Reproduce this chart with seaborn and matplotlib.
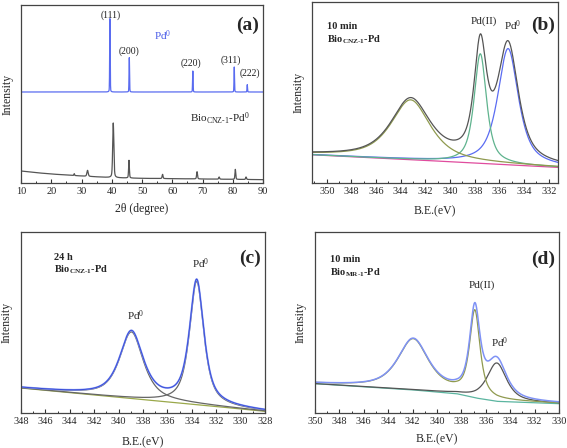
import numpy as np
import pandas as pd
import matplotlib
matplotlib.use("Agg")
import matplotlib.pyplot as plt
from matplotlib.ticker import MultipleLocator
import seaborn as sns

# ---------------- data ----------------
# (a) XRD
xrd_ref_pos = [39.4, 45.8, 66.8, 80.5, 84.8]
xrd_ref_top = [493, 376, 336, 348, 295]
xrd_ref_base = 273
xrd_ref_hkl = ["(111)", "(200)", "(220)", "(311)", "(222)"]
xrd_hkl_x = [39.5, 45.6, 66.3, 79.3, 85.5]
xrd_hkl_y = [503, 396, 360, 368, 330]
xrd_bg_x = [10, 15, 20, 30, 40, 50, 60, 70, 80, 90]
xrd_bg_y = [36, 31, 27, 21, 16, 14, 13, 12, 11, 10]
xrd_pk_pos = [27.6, 32.0, 40.5, 45.7, 56.8, 68.2, 75.5, 80.85, 84.4]
xrd_pk_top = [28, 38, 180, 68, 26, 34, 18, 41, 18]
xrd_pk_w = [0.25, 0.5, 0.45, 0.3, 0.35, 0.35, 0.35, 0.3, 0.35]

# (b) 10 min Bio_CNZ-1-Pd
b_bg_e = [351.2, 343.0, 337.0, 331.25]
b_bg_i = [85, 70, 58, 47]
b_cen = [343.2, 337.55, 335.3]
b_hgt = [180, 330, 350]
b_fwhm = [3.8, 1.2, 2.0]

# (c) 24 h Bio_CNZ-1-Pd
c_bg_e = [348.0, 338.0, 333.0, 328.0]
c_bg_i = [75, 40, 23, 5]
c_cen = [338.95, 333.6]
c_hgt = [200, 370]
c_fwhm = [2.3, 1.4]

# (d) 10 min Bio_MR-1-Pd
d_bg_e = [350.0, 342.2, 338.4, 336.8, 335.1, 330.0]
d_bg_i = [88, 70, 58, 45, 35, 28]
d_cen = [341.95, 336.9, 335.1]
d_hgt = [152, 255, 115]
d_fwhm = [3.0, 1.0, 1.9]


def pv(x, c, h, w, eta=0.75):
    u = (x - c) / (w / 2.0)
    return h * (eta / (1 + u ** 2) + (1 - eta) * np.exp(-np.log(2) * u ** 2))


# ---------------- style ----------------
sns.set_theme(style="ticks")
plt.rcParams["font.family"] = ["Liberation Serif", "DejaVu Serif"]
plt.rcParams["mathtext.fontset"] = "custom"
plt.rcParams["mathtext.rm"] = "Liberation Serif"
plt.rcParams["mathtext.it"] = "Liberation Serif:italic"
plt.rcParams["mathtext.bf"] = "Liberation Serif:bold"
plt.rcParams["axes.edgecolor"] = "#444444"
plt.rcParams["axes.linewidth"] = 0.9

fig = plt.figure(figsize=(5.67, 4.48), dpi=100)
W, H = 567.0, 448.0


def add_ax(l, r, t, b):
    return fig.add_axes([l / W, 1 - b / H, (r - l) / W, (b - t) / H])


ax_a = add_ax(21, 263, 5, 183)
ax_b = add_ax(312, 558, 2, 183)
ax_c = add_ax(21, 265, 232, 413)
ax_d = add_ax(315, 559, 232, 413)

TICK = 7.5
LAB = 8.5


def style_ax(ax, major, minor, xlab, xlabel_y, ylabel_x):
    ax.xaxis.set_major_locator(MultipleLocator(major))
    ax.xaxis.set_minor_locator(MultipleLocator(minor))
    ax.tick_params(axis="x", which="major", direction="in", length=3, width=0.8,
                   labelsize=TICK, pad=3, color="#333333")
    ax.tick_params(axis="x", which="minor", direction="in", length=1.8, width=0.7,
                   color="#333333")
    ax.tick_params(axis="y", left=False, labelleft=False)
    ax.set_yticks([])
    ax.set_xlabel(xlab, fontsize=LAB)
    ax.set_ylabel("Intensity", fontsize=LAB)
    ax.xaxis.set_label_coords(0.5, xlabel_y)
    ax.yaxis.set_label_coords(ylabel_x, 0.5)
    for s in ax.spines.values():
        s.set_visible(True)


def line(ax, x, y, color, lw=0.9):
    df = pd.DataFrame({"x": x, "y": y})
    sns.lineplot(data=df, x="x", y="y", ax=ax, color=color, lw=lw,
                 sort=False, estimator=None, legend=False)


# ---------------- (a) XRD ----------------
tt = np.linspace(10, 90, 4001)
ref = np.full_like(tt, float(xrd_ref_base))
for p, t in zip(xrd_ref_pos, xrd_ref_top):
    ref += pv(tt, p, t - xrd_ref_base, 0.2, eta=0.2)
line(ax_a, tt, ref, "#5a6cf0")

samp = np.interp(tt, xrd_bg_x, xrd_bg_y)
for p, t, w in zip(xrd_pk_pos, xrd_pk_top, xrd_pk_w):
    samp += pv(tt, p, t - np.interp(p, xrd_bg_x, xrd_bg_y), w, eta=0.4)
line(ax_a, tt, samp, "#555555")

for lab, x, y in zip(xrd_ref_hkl, xrd_hkl_x, xrd_hkl_y):
    ax_a.text(x, y, lab, fontsize=7, ha="center", va="center", color="#222222")
ax_a.text(56.9, 443, r"Pd$^{0}$", fontsize=8, ha="center", va="center", color="#4a5ce8")
ax_a.text(66, 193, r"Bio$_{\mathrm{CNZ\text{-}1}}$-Pd$^{0}$", fontsize=8,
          ha="left", va="center", color="#222222")
ax_a.text(0.938, 0.885, "(a)", transform=ax_a.transAxes, fontsize=14,
          fontweight="bold", ha="center", va="center")
ax_a.set_xlim(10, 90)
ax_a.set_ylim(0, 534)
style_ax(ax_a, 10, 5, "2θ (degree)", -0.112, -0.032)

# ---------------- (b) ----------------
eb = np.linspace(351.2, 331.25, 1200)
bgb = np.interp(eb, b_bg_e[::-1], b_bg_i[::-1])
compb = [pv(eb, c, h, w) for c, h, w in zip(b_cen, b_hgt, b_fwhm)]
line(ax_b, eb, bgb, "#e04c9e")
line(ax_b, eb, bgb + compb[2], "#5b6cf2")
line(ax_b, eb, bgb + compb[1], "#5fb38e")
line(ax_b, eb, bgb + compb[0], "#8f9a4f")
line(ax_b, eb, bgb + sum(compb), "#555555")
ax_b.set_xlim(351.2, 331.25)
ax_b.set_ylim(0, 545)
ax_b.text(350.0, 472, "10 min", fontsize=7.5, fontweight="bold", ha="left", va="center")
ax_b.text(350.0, 432, r"$\mathbf{Bio}_{\mathbf{CNZ\text{-}1}}\mathbf{\text{-}Pd}$", fontsize=7.5,
          ha="left", va="center")
ax_b.text(337.3, 488, "Pd(II)", fontsize=8, ha="center", va="center")
ax_b.text(334.9, 475, r"Pd$^{0}$", fontsize=8, ha="center", va="center")
ax_b.text(0.94, 0.873, "(b)", transform=ax_b.transAxes, fontsize=14,
          fontweight="bold", ha="center", va="center")
style_ax(ax_b, 2, 1, "B.E.(eV)", -0.122, -0.030)

# ---------------- (c) ----------------
ec = np.linspace(348, 328, 1200)
bgc = np.interp(ec, c_bg_e[::-1], c_bg_i[::-1])
compc = [pv(ec, c, h, w) for c, h, w in zip(c_cen, c_hgt, c_fwhm)]
line(ax_c, ec, bgc, "#9aa84a")
line(ax_c, ec, bgc + compc[0], "#666666")
line(ax_c, ec, bgc + compc[1], "#666666")
line(ax_c, ec, bgc + sum(compc), "#8a9cf5", lw=1.3)
line(ax_c, ec, bgc + sum(compc), "#3a4ed8", lw=0.7)
ax_c.set_xlim(348, 328)
ax_c.set_ylim(0, 543)
ax_c.text(345.33, 468, "24 h", fontsize=7.5, fontweight="bold", ha="left", va="center")
ax_c.text(345.33, 430, r"$\mathbf{Bio}_{\mathbf{CNZ\text{-}1}}\mathbf{\text{-}Pd}$", fontsize=7.5,
          ha="left", va="center")
ax_c.text(338.6, 292, r"Pd$^{0}$", fontsize=8, ha="center", va="center")
ax_c.text(333.3, 447, r"Pd$^{0}$", fontsize=8, ha="center", va="center")
ax_c.text(0.939, 0.853, "(c)", transform=ax_c.transAxes, fontsize=14,
          fontweight="bold", ha="center", va="center")
style_ax(ax_c, 2, 1, "B.E.(eV)", -0.127, -0.033)

# ---------------- (d) ----------------
ed = np.linspace(350, 330, 1200)
bgd = np.interp(ed, d_bg_e[::-1], d_bg_i[::-1])
compd = [pv(ed, c, h, w) for c, h, w in zip(d_cen, d_hgt, d_fwhm)]
line(ax_d, ed, bgd, "#5bb5a0")
line(ax_d, ed, bgd + compd[2], "#555555")
line(ax_d, ed, bgd + compd[0] + compd[1], "#8f9a4f")
line(ax_d, ed, bgd + sum(compd), "#7f92f5", lw=1.1)
ax_d.set_xlim(350, 330)
ax_d.set_ylim(0, 543)
ax_d.text(348.77, 462, "10 min", fontsize=7.5, fontweight="bold", ha="left", va="center")
ax_d.text(348.77, 422, r"$\mathbf{Bio}_{\mathbf{MR\text{-}1}}\mathbf{\text{-}Pd}$", fontsize=7.5,
          ha="left", va="center")
ax_d.text(336.35, 383, "Pd(II)", fontsize=8, ha="center", va="center")
ax_d.text(334.85, 212, r"Pd$^{0}$", fontsize=8, ha="center", va="center")
ax_d.text(0.935, 0.851, "(d)", transform=ax_d.transAxes, fontsize=14,
          fontweight="bold", ha="center", va="center")
style_ax(ax_d, 2, 1, "B.E.(eV)", -0.11, -0.035)

fig.savefig("out.png", dpi=100)
